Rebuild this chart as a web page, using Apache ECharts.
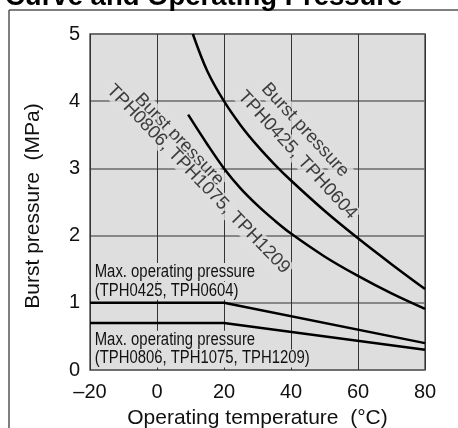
<!DOCTYPE html>
<html><head><meta charset="utf-8">
<script src="https://cdn.jsdelivr.net/npm/echarts@6/dist/echarts.min.js"></script>
<style>html,body{margin:0;padding:0;background:#fff}#c{width:458px;height:428px}</style>
</head><body><div id="c"></div>
<script>
// ---- data ----
const xTicks = [-20, 0, 20, 40, 60, 80];
const yTicks = [0, 1, 2, 3, 4, 5];
const burstSmall = [[10.7,5.0],[15,4.45],[20,4.0],[25,3.64],[30,3.335],[35,3.065],[40,2.82],[50,2.37],[60,1.96],[70,1.575],[80,1.205]];
const burstLarge = [[9.3,3.8],[15,3.36],[20,3.0],[25,2.70],[30,2.45],[35,2.23],[40,2.03],[50,1.69],[60,1.40],[70,1.14],[80,0.91]];
const maxOpSmall = [[-20,1.0],[20,1.0],[80,0.4]];
const maxOpLarge = [[-20,0.7],[20,0.7],[80,0.3]];
const rotLabelText = ['Burst pressure', 'TPH0425, TPH0604', 'Burst pressure', 'TPH0806, TPH1075, TPH1209'];
const rotLabelAt = [[44.2,3.57],[41.9,3.20],[6.6,3.43],[12.3,2.84]];
const rotLabelAngle = [-47.5, -47.5, -46, -46];
const flatLabelText = ['Max. operating pressure', '(TPH0425, TPH0604)', 'Max. operating pressure', '(TPH0806, TPH1075, TPH1209)'];
const flatLabelAt = [[-19.1,1.46],[-19.1,1.18],[-19.1,0.45],[-19.1,0.17]];
const titleText = 'Curve and Operating Pressure';
const xName = 'Operating temperature  (°C)';
const yName = 'Burst pressure  (MPa)';

const BG = '#dedede';
const chart = echarts.init(document.getElementById('c'), null, {renderer: 'canvas'});

const lineStyle = {color: '#000', width: 2.5};
const option = {
  animation: false,
  grid: {left: 90, right: 33, top: 34, bottom: 58, show: true, backgroundColor: BG, borderColor: '#555', borderWidth: 1.5,
    containLabel: false, outerBoundsMode: 'none'},
  xAxis: {
    type: 'value', min: xTicks[0], max: xTicks[xTicks.length-1], interval: 20,
    axisLine: {show: false}, axisTick: {show: false},
    splitLine: {show: true, lineStyle: {color: '#333', width: 1}},
    axisLabel: {margin: 12.5, color: '#111', fontSize: 20, fontFamily: 'Liberation Sans',
      formatter: v => String(v).replace('-', '\u2013')},
    name: xName, nameLocation: 'middle', nameGap: 38,
    nameTextStyle: {color: '#111', fontSize: 21, fontFamily: 'Liberation Sans'}
  },
  yAxis: {
    type: 'value', min: yTicks[0], max: yTicks[yTicks.length-1], interval: 1,
    axisLine: {show: false}, axisTick: {show: false},
    splitLine: {show: true, lineStyle: {color: '#6a6a6a', width: 1.5}},
    axisLabel: {margin: 10, color: '#111', fontSize: 20, fontFamily: 'Liberation Sans'},
    name: yName, nameLocation: 'middle', nameGap: 46,
    nameTextStyle: {color: '#111', fontSize: 21, fontFamily: 'Liberation Sans', padding: [0, 8, 0, 0]}
  },
  graphic: [
    {id: 'f1', type: 'line', shape: {x1: 9, y1: 10, x2: 458, y2: 10}, style: {stroke: '#555', lineWidth: 1.5}},
    {id: 'f2', type: 'line', shape: {x1: 9, y1: 10, x2: 9, y2: 428}, style: {stroke: '#555', lineWidth: 1.5}},
    {id: 'title', type: 'text', x: 5, y: -2.5, style: {text: titleText, font: 'bold 27.5px "Liberation Sans"', fill: '#000', verticalAlign: 'middle', align: 'left'}}
  ],
  series: [
    {type: 'line', data: burstSmall, smooth: 0.35, symbol: 'none', lineStyle, z: 3},
    {type: 'line', data: burstLarge, smooth: 0.35, symbol: 'none', lineStyle, z: 3},
    {type: 'line', data: maxOpSmall, symbol: 'none', lineStyle, z: 3},
    {type: 'line', data: maxOpLarge, symbol: 'none', lineStyle, z: 3},
    {type: 'scatter', z: 2, symbolSize: 0, silent: true,
      data: rotLabelAt.map((p, i) => ({value: p, label: {show: true, position: 'inside', formatter: rotLabelText[i], rotate: rotLabelAngle[i],
        align: 'center', verticalAlign: 'middle', color: '#111', fontSize: 18.5, fontFamily: 'Liberation Sans',
        backgroundColor: BG, padding: [0, 2]}}))}
  ]
};
chart.setOption(option);

// flat, condensed labels placed through the grid's own coordinate conversion
const flatGraphics = flatLabelAt.map((p, i) => {
  const px = chart.convertToPixel({gridIndex: 0}, p);
  return {id: 'fl' + i, type: 'text', x: px[0], y: px[1], scaleX: 0.85, z: 4,
    style: {text: flatLabelText[i], font: '17.5px "Liberation Sans"', fill: '#111', align: 'left', verticalAlign: 'middle',
      backgroundColor: BG, padding: [0, 2]}};
});
chart.setOption({graphic: flatGraphics});
</script></body></html>
